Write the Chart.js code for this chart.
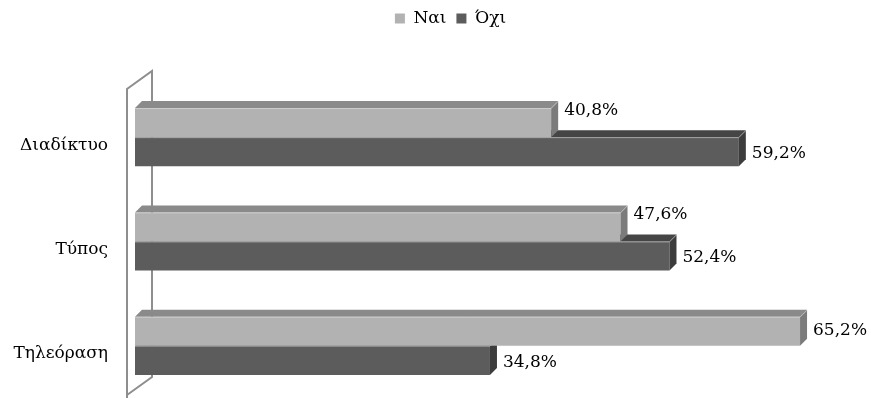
<!DOCTYPE html>
<html>
<head>
<meta charset="utf-8">
<script src="https://cdn.jsdelivr.net/npm/chart.js@4.4.1/dist/chart.umd.min.js"></script>
<style>
  html, body { margin: 0; padding: 0; background: #fff; }
  #wrap { width: 871px; height: 398px; }
</style>
</head>
<body>
<div id="wrap"><canvas id="c" width="871" height="398"></canvas></div>
<script>
// Survey answers per medium (percent)
const categories = ['Διαδίκτυο', 'Τύπος', 'Τηλεόραση'];
const seriesNames = ['Ναι', 'Όχι'];
const yesValues = [40.8, 47.6, 65.2];
const noValues = [59.2, 52.4, 34.8];
const axisMax = 70;

const FONT = 'DejaVu Serif';
const FONT_SIZE = 17;
const DEPTH = 7;
const LEGEND_SHIFT = 26;

// colours: front face, top face, side face
const shades = [
  { front: '#b2b2b2', top: '#8a8a8a', side: '#7b7b7b' },
  { front: '#5c5c5c', top: '#454545', side: '#3c3c3c' }
];

function fmt(v) { return v.toFixed(1).replace('.', ',') + '%'; }

// Fake-3D extrusion for each bar, plus the two-plane axis wall
const bar3d = {
  id: 'bar3d',
  afterLayout(chart) {
    // nudge the legend row to the right of the canvas centre
    const lg = chart.legend;
    if (lg) { lg.left += LEGEND_SHIFT; lg.right += LEGEND_SHIFT; }
  },
  beforeDatasetsDraw(chart) {
    const { ctx, chartArea: a } = chart;
    ctx.save();
    ctx.strokeStyle = '#8e8e8e';
    ctx.lineWidth = 2;
    const fx = a.left - 8, bx = a.left + 17;
    ctx.beginPath();
    ctx.moveTo(fx, a.bottom + 2);
    ctx.lineTo(fx, a.top + 4);
    ctx.lineTo(bx, a.top - 14);
    ctx.lineTo(bx, a.bottom - 21);
    ctx.lineTo(fx, a.bottom - 3);
    ctx.stroke();
    ctx.restore();
  },
  afterDatasetDraw(chart, args) {
    const { ctx } = chart;
    const s = shades[args.index];
    const d = DEPTH;
    args.meta.data.forEach(el => {
      const p = el.getProps(['x', 'y', 'base', 'height'], true);
      const top = p.y - p.height / 2, bot = p.y + p.height / 2;
      ctx.save();
      ctx.fillStyle = s.top;
      ctx.beginPath();
      ctx.moveTo(p.base, top);
      ctx.lineTo(p.x, top);
      ctx.lineTo(p.x + d, top - d);
      ctx.lineTo(p.base + d, top - d);
      ctx.closePath();
      ctx.fill();
      ctx.fillStyle = s.side;
      ctx.beginPath();
      ctx.moveTo(p.x, top);
      ctx.lineTo(p.x + d, top - d);
      ctx.lineTo(p.x + d, bot - d);
      ctx.lineTo(p.x, bot);
      ctx.closePath();
      ctx.fill();
      // faint highlight along the front edges
      ctx.strokeStyle = 'rgba(255,255,255,0.35)';
      ctx.lineWidth = 1;
      ctx.beginPath();
      ctx.moveTo(p.base, top + 0.5);
      ctx.lineTo(p.x, top + 0.5);
      ctx.lineTo(p.x + d, top - d + 0.5);
      ctx.stroke();
      ctx.restore();
    });
  },
  afterDatasetsDraw(chart) {
    const { ctx } = chart;
    ctx.save();
    ctx.font = FONT_SIZE + 'px "' + FONT + '"';
    ctx.fillStyle = '#000';
    ctx.textAlign = 'left';
    ctx.textBaseline = 'middle';
    chart.data.datasets.forEach((ds, di) => {
      const meta = chart.getDatasetMeta(di);
      meta.data.forEach((el, i) => {
        const p = el.getProps(['x', 'y'], true);
        let dy = di === 0 ? -1 : 2;
        // the shorter upper bar keeps its label clear of the lower bar's top
        if (di === 0 && yesValues[i] < noValues[i]) dy = -12;
        ctx.fillText(fmt(ds.data[i]), p.x + DEPTH + 6, p.y + dy);
      });
    });
    ctx.restore();
  }
};

new Chart(document.getElementById('c'), {
  type: 'bar',
  data: {
    labels: categories,
    datasets: [
      { label: seriesNames[0], data: yesValues, backgroundColor: shades[0].front },
      { label: seriesNames[1], data: noValues, backgroundColor: shades[1].front }
    ]
  },
  options: {
    indexAxis: 'y',
    responsive: false,
    animation: false,
    events: [],
    layout: { padding: { left: 0, right: 22, top: 0, bottom: 0 } },
    datasets: {
      bar: { categoryPercentage: 0.558, barPercentage: 1, borderWidth: 0 }
    },
    scales: {
      x: { display: false, min: 0, max: axisMax },
      y: {
        grid: { display: false, tickLength: 27 },
        border: { display: false },
        afterFit(scale) {
          scale.width = 135;
          scale.paddingTop = 0;
          scale.paddingBottom = 0;
        },
        ticks: {
          color: '#000',
          padding: 0,
          labelOffset: 8,
          font: { family: FONT, size: FONT_SIZE }
        }
      }
    },
    plugins: {
      legend: {
        position: 'top',
        weight: 3000,
        labels: {
          boxWidth: 10,
          boxHeight: 10,
          padding: 10,
          color: '#000',
          font: { family: FONT, size: FONT_SIZE }
        }
      },
      // blank spacer between the legend and the bars
      title: {
        display: true,
        text: ' ',
        font: { size: 10, lineHeight: 1 },
        padding: { top: 0, bottom: 38 }
      },
      tooltip: { enabled: false }
    }
  },
  plugins: [bar3d]
});
</script>
</body>
</html>
